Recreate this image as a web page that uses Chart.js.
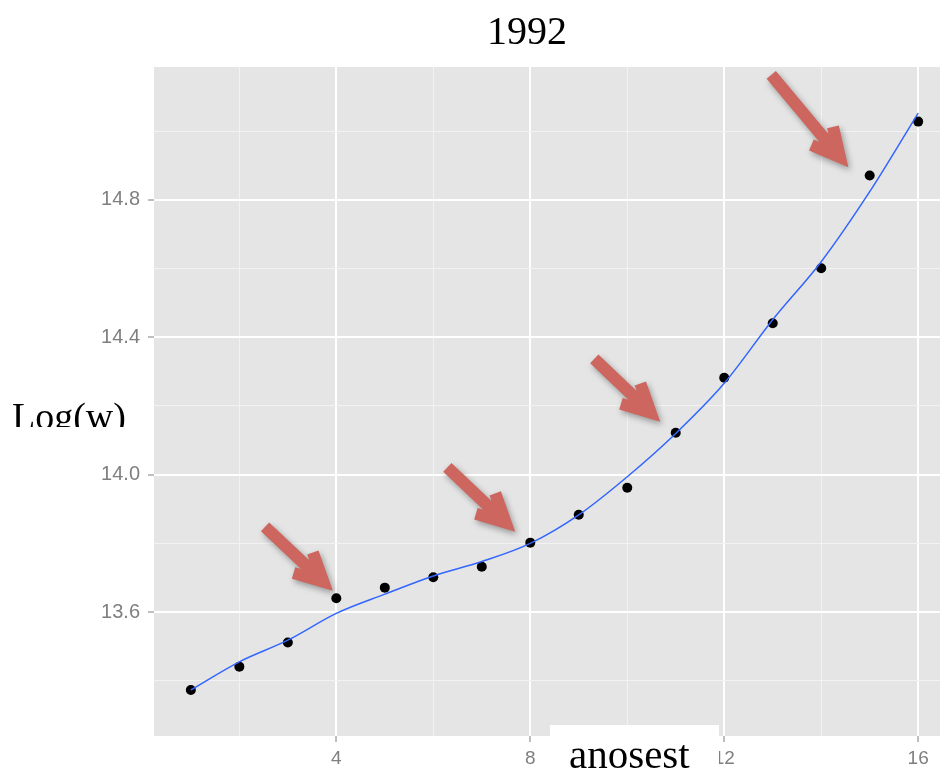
<!DOCTYPE html>
<html>
<head>
<meta charset="utf-8">
<title>1992</title>
<script src="https://cdn.jsdelivr.net/npm/chart.js@4/dist/chart.umd.min.js"></script>
<style>
  html, body { margin: 0; padding: 0; background: #fff; }
  #wrap { width: 941px; height: 772px; }
</style>
</head>
<body>
<div id="wrap"><canvas id="chart" width="941" height="772"></canvas></div>
<script>
// age (x) and observed log wage
const ages = [1, 2, 3, 4, 5, 6, 7, 8, 9, 10, 11, 12, 13, 14, 15, 16];
const logW = [13.373, 13.441, 13.511, 13.640, 13.671, 13.701, 13.732, 13.802,
              13.883, 13.962, 14.122, 14.282, 14.441, 14.601, 14.871, 15.028];
// smoothed fit (blue line)
const smoothFit = [13.373, 13.455, 13.518, 13.596, 13.652, 13.705, 13.747, 13.800,
                   13.883, 13.994, 14.120, 14.266, 14.451, 14.620, 14.824, 15.053];

const xTickLabels = ['4', '8', '12', '16'];
const yTickLabels = ['13.6', '14.0', '14.4', '14.8'];

// red arrows, in data units: tail -> tip
const arrowTailX = [2.53, 6.29, 9.32, 12.97];
const arrowTailY = [13.848, 14.021, 14.337, 15.164];
const arrowTipX = [3.93, 7.69, 10.68, 14.56];
const arrowTipY = [13.662, 13.834, 14.154, 14.895];

const titleText = '1992';
const yAxisText = 'Log(w)';
const footText = 'anosest';

const SERIF = "'Liberation Serif', 'DejaVu Serif', serif";
const SANS = "'Liberation Sans', Arial, sans-serif";
const TICK_GREY = '#7f7f7f';

function isMajor(v, step) {
  const r = v / step;
  return Math.abs(r - Math.round(r)) < 1e-6;
}

function gridStyle(step) {
  return {
    color: ctx => isMajor(ctx.tick.value, step) ? '#ffffff' : '#f2f2f2',
    lineWidth: ctx => isMajor(ctx.tick.value, step) ? 2 : 1,
    tickColor: ctx => isMajor(ctx.tick.value, step) ? TICK_GREY : 'rgba(0,0,0,0)',
    tickLength: 6,
    tickWidth: 1,
  };
}

const panelPlugin = {
  id: 'panel',
  beforeDraw(chart) {
    const { ctx, chartArea } = chart;
    ctx.save();
    ctx.fillStyle = '#fff';
    ctx.fillRect(0, 0, chart.width, chart.height);
    ctx.fillStyle = '#e5e5e5';
    ctx.fillRect(chartArea.left, chartArea.top,
      chartArea.right - chartArea.left, chartArea.bottom - chartArea.top);
    ctx.restore();
  }
};

function drawArrow(ctx, x1, y1, x2, y2) {
  const ang = Math.atan2(y2 - y1, x2 - x1);
  const w = 12;
  const half = 27 * Math.PI / 180;
  const back = (w / 2) / Math.sin(half);
  const vx = x2 - back * Math.cos(ang);
  const vy = y2 - back * Math.sin(ang);
  const wing = 31;
  ctx.beginPath();
  ctx.moveTo(x1, y1);
  ctx.lineTo(vx, vy);
  ctx.moveTo(vx + wing * Math.cos(ang + Math.PI - half), vy + wing * Math.sin(ang + Math.PI - half));
  ctx.lineTo(vx, vy);
  ctx.lineTo(vx + wing * Math.cos(ang + Math.PI + half), vy + wing * Math.sin(ang + Math.PI + half));
  ctx.stroke();
}

const arrowPlugin = {
  id: 'arrows',
  afterDatasetsDraw(chart) {
    const { ctx, scales: { x, y } } = chart;
    ctx.save();
    ctx.strokeStyle = '#cc665f';
    ctx.lineWidth = 12;
    ctx.lineJoin = 'miter';
    ctx.miterLimit = 10;
    ctx.lineCap = 'butt';
    ctx.shadowColor = 'rgba(0,0,0,0.35)';
    ctx.shadowBlur = 6;
    ctx.shadowOffsetX = 2;
    ctx.shadowOffsetY = 3;
    arrowTipX.forEach((_, i) => {
      drawArrow(ctx,
        x.getPixelForValue(arrowTailX[i]), y.getPixelForValue(arrowTailY[i]),
        x.getPixelForValue(arrowTipX[i]), y.getPixelForValue(arrowTipY[i]));
    });
    ctx.restore();
  }
};

const textPlugin = {
  id: 'texts',
  afterDraw(chart) {
    const { ctx } = chart;
    ctx.save();
    ctx.fillStyle = '#000';
    ctx.font = '40px ' + SERIF;
    ctx.textAlign = 'center';
    ctx.textBaseline = 'alphabetic';
    ctx.fillText(titleText, 527, 44);

    // y label is cut off just under its baseline in the original
    ctx.save();
    ctx.beginPath();
    ctx.rect(0, 380, 150, 47);
    ctx.clip();
    ctx.font = '38px ' + SERIF;
    ctx.textAlign = 'left';
    ctx.fillText(yAxisText, 12, 429);
    ctx.restore();

    // white box pasted over the x axis
    ctx.fillStyle = '#fff';
    ctx.fillRect(550, 725, 169, 47);
    ctx.fillStyle = '#000';
    ctx.font = '41px ' + SERIF;
    ctx.textAlign = 'left';
    ctx.fillText(footText, 569, 768);
    ctx.restore();
  }
};

new Chart(document.getElementById('chart'), {
  type: 'line',
  data: {
    datasets: [
      {
        label: 'smooth',
        data: ages.map((a, i) => ({ x: a, y: smoothFit[i] })),
        borderColor: '#3366ff',
        borderWidth: 1.5,
        pointRadius: 0,
        cubicInterpolationMode: 'monotone',
        fill: false,
      },
      {
        label: 'logW',
        data: ages.map((a, i) => ({ x: a, y: logW[i] })),
        showLine: false,
        pointRadius: 5,
        pointBackgroundColor: '#000',
        pointBorderColor: '#000',
        pointBorderWidth: 0,
      }
    ]
  },
  options: {
    responsive: false,
    animation: false,
    layout: { autoPadding: false, padding: { top: 67, right: 1, left: 0, bottom: 0 } },
    scales: {
      x: {
        type: 'linear',
        min: 0.24,
        max: 16.45,
        afterFit: s => {
          s.height = 36;
          s.paddingLeft = 0;
          s.paddingRight = 0;
        },
        border: { display: false },
        grid: gridStyle(4),
        ticks: {
          stepSize: 2,
          includeBounds: false,
          autoSkip: false,
          maxRotation: 0,
          padding: 5,
          color: TICK_GREY,
          font: { family: SANS, size: 19 },
          callback: v => {
            const idx = xTickLabels.indexOf(String(v));
            return idx >= 0 ? xTickLabels[idx] : '';
          }
        }
      },
      y: {
        type: 'linear',
        min: 13.239,
        max: 15.187,
        afterFit: s => {
          s.width = 154;
          s.paddingTop = 0;
          s.paddingBottom = 0;
        },
        border: { display: false },
        grid: gridStyle(0.4),
        ticks: {
          stepSize: 0.2,
          includeBounds: false,
          autoSkip: false,
          padding: 8,
          color: TICK_GREY,
          font: { family: SANS, size: 20 },
          callback: v => {
            const idx = yTickLabels.indexOf(Number(v).toFixed(1));
            return isMajor(v, 0.4) && idx >= 0 ? yTickLabels[idx] : '';
          }
        }
      }
    },
    plugins: {
      legend: { display: false },
      tooltip: { enabled: false },
      title: { display: false }
    }
  },
  plugins: [panelPlugin, arrowPlugin, textPlugin]
});
</script>
</body>
</html>
